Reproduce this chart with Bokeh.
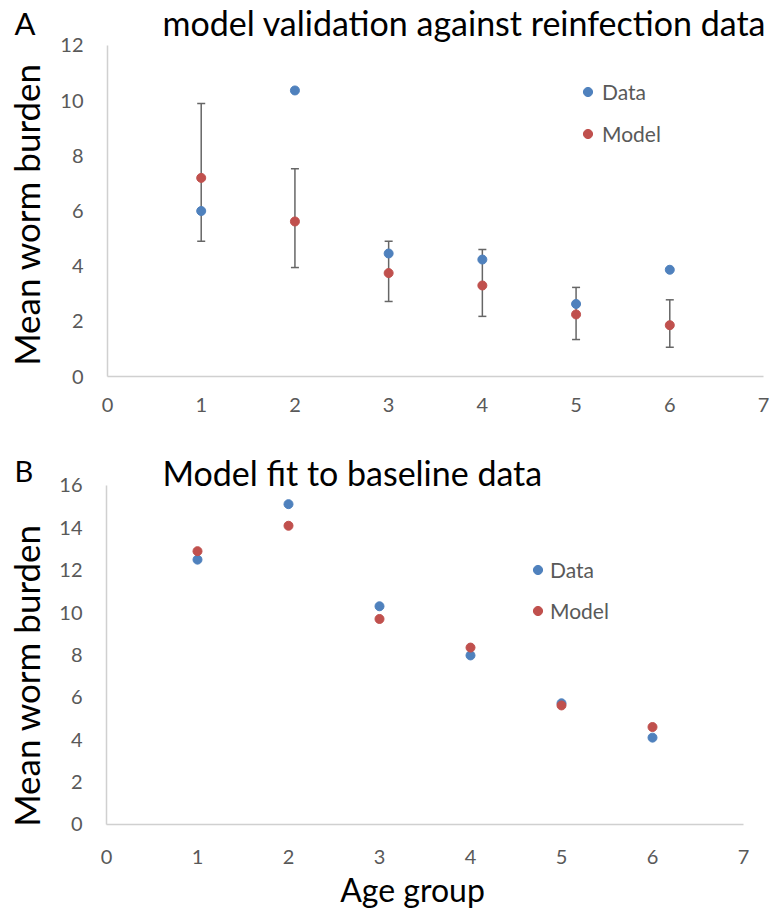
import math
from bokeh.plotting import figure
from bokeh.models import (ColumnDataSource, Whisker, TeeHead, Label, Legend,
                          LegendItem, Range1d, FixedTicker)
from bokeh.layouts import column
from bokeh.embed import file_html
from bokeh.resources import INLINE

# ---------------- data ----------------
age = [1, 2, 3, 4, 5, 6]

a_data = [6.0, 10.37, 4.46, 4.24, 2.63, 3.87]
a_model = [7.2, 5.62, 3.75, 3.3, 2.25, 1.86]
a_model_upper = [9.9, 7.53, 4.9, 4.6, 3.23, 2.78]
a_model_lower = [4.9, 3.95, 2.72, 2.18, 1.34, 1.06]

b_data = [12.5, 15.12, 10.3, 7.98, 5.72, 4.1]
b_model = [12.9, 14.1, 9.7, 8.35, 5.62, 4.6]

x_ticks = [0, 1, 2, 3, 4, 5, 6, 7]
a_y_ticks = [0, 2, 4, 6, 8, 10, 12]
b_y_ticks = [0, 2, 4, 6, 8, 10, 12, 14, 16]

title_a = "model validation against reinfection data"
title_b = "Model fit to baseline data"
y_label = "Mean worm burden"
x_label = "Age group"

# ---------------- style ----------------
BLUE = "#4F81BD"
RED = "#C0504D"
AXIS = "#D0D0D0"
TICK_TXT = "#595959"
FONT = "Lato"
W = 774
HA, HB = 453, 456


def make_fig(h, xr, yr):
    p = figure(width=W, height=h, x_range=Range1d(*xr), y_range=Range1d(*yr),
               output_backend="svg", toolbar_location=None,
               min_border_left=0, min_border_right=0, min_border_top=0,
               min_border_bottom=0)
    p.outline_line_color = None
    p.grid.visible = False
    p.background_fill_color = None
    return p


def style_axes(p, xt, yt, x_standoff, y_standoff):
    p.xaxis.ticker = FixedTicker(ticks=xt)
    p.yaxis.ticker = FixedTicker(ticks=yt)
    p.xaxis.fixed_location = xt[0]
    p.yaxis.fixed_location = yt[0]
    p.xaxis.bounds = (xt[0], xt[-1])
    p.yaxis.bounds = (yt[0], yt[-1])
    for ax in (p.xaxis[0], p.yaxis[0]):
        ax.axis_line_color = AXIS
        ax.axis_line_width = 1.5
        ax.major_tick_out = 0
        ax.major_tick_in = 0
        ax.minor_tick_out = 0
        ax.minor_tick_in = 0
        ax.major_label_text_font = FONT
        ax.major_label_text_font_size = "20px"
        ax.major_label_text_color = TICK_TXT
    p.xaxis.major_label_standoff = x_standoff
    p.yaxis.major_label_standoff = y_standoff


def add_legend(p, rd, rm, loc, spacing, standoff):
    leg = Legend(items=[LegendItem(label="Data", renderers=[rd]),
                        LegendItem(label="Model", renderers=[rm])],
                 location=loc, padding=0, margin=0, spacing=spacing,
                 glyph_width=23, glyph_height=23, label_height=20,
                 label_standoff=standoff, border_line_color=None,
                 background_fill_alpha=0, label_text_font=FONT,
                 label_text_font_size="21px", label_text_color=TICK_TXT)
    p.add_layout(leg)


def text(p, x, y, s, size, angle=0.0, align="left"):
    p.add_layout(Label(x=x, y=y, x_units="screen", y_units="screen", text=s,
                       angle=angle, text_align=align, text_baseline="alphabetic",
                       text_font=FONT, text_font_size=size, text_color="black"))


# ---------------- panel A ----------------
pA = make_fig(HA, (-1.14177, 7.11738), (-2.7915, 13.6314))
style_axes(pA, x_ticks, a_y_ticks, 21, 24)

srcA = ColumnDataSource(dict(x=age, data=a_data, model=a_model,
                             upper=a_model_upper, lower=a_model_lower))
pA.add_layout(Whisker(source=srcA, base="x", upper="upper", lower="lower",
                      line_color="#666666", line_width=1.5,
                      upper_head=TeeHead(size=8, line_color="#666666", line_width=1.5),
                      lower_head=TeeHead(size=8, line_color="#666666", line_width=1.5)))
rAd = pA.scatter("x", "data", source=srcA, size=9, color=BLUE)
rAm = pA.scatter("x", "model", source=srcA, size=9, color=RED)
add_legend(pA, rAd, rAm, (576, 307), 17, 3)

text(pA, 14, 431, "A", "31px")
text(pA, 162, 431, title_a, "34px")
text(pA, 25, 239, y_label, "35px", angle=math.pi / 2, align="center")

# ---------------- panel B ----------------
pB = make_fig(HB, (-1.16484, 7.34066), (-4.0118, 17.5103))
style_axes(pB, x_ticks, b_y_ticks, 26, 24)

srcB = ColumnDataSource(dict(x=age, data=b_data, model=b_model))
rBd = pB.scatter("x", "data", source=srcB, size=9, color=BLUE)
rBm = pB.scatter("x", "model", source=srcB, size=9, color=RED)
add_legend(pB, rBd, rBm, (526, 286), 16, 1)

text(pB, 14, 439, "B", "29px")
text(pB, 162, 437, title_b, "34px")
text(pB, 25, 234, y_label, "35px", angle=math.pi / 2, align="center")
text(pB, 412, 20, x_label, "32px", align="center")

layout = column(pA, pB, spacing=0)
open("out.html", "w").write(file_html(layout, INLINE))
